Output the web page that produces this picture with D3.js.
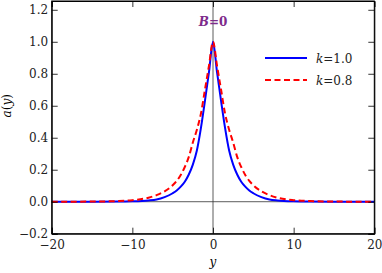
<!DOCTYPE html>
<html>
<head>
<meta charset="utf-8">
<script src="https://cdn.jsdelivr.net/npm/d3@7"></script>
<style>
  body { margin: 0; background: #fff; }
  svg { display: block; }
  svg text { font-family: "DejaVu Serif", "Liberation Serif", serif !important; }
</style>
</head>
<body>
<script>
// values
var ys = [-20, -15, -12, -10, -8, -7, -6, -5, -4.5, -4, -3.5, -3, -2.5, -2, -1.5, -1, -0.5, 0,
          0.5, 1, 1.5, 2, 2.5, 3, 3.5, 4, 4.5, 5, 6, 7, 8, 10, 12, 15, 20];
var blue = [0, 0.0002, 0.0007, 0.0023, 0.0077, 0.014, 0.029, 0.053, 0.07, 0.094, 0.125, 0.17, 0.232, 0.32, 0.46, 0.63, 0.81, 1.0,
            0.81, 0.63, 0.46, 0.32, 0.232, 0.17, 0.125, 0.094, 0.07, 0.053, 0.029, 0.014, 0.0077, 0.0023, 0.0007, 0.0002, 0];
var red = [0, 0.001, 0.004, 0.0098, 0.025, 0.041, 0.065, 0.103, 0.13, 0.167, 0.217, 0.28, 0.37, 0.45, 0.55, 0.70, 0.85, 1.0,
           0.85, 0.70, 0.55, 0.45, 0.37, 0.28, 0.217, 0.167, 0.13, 0.103, 0.065, 0.041, 0.025, 0.0098, 0.004, 0.001, 0];
var xTicks = [-20, -10, 0, 10, 20];
var yTicks = [-0.2, 0.0, 0.2, 0.4, 0.6, 0.8, 1.0, 1.2];
var legendNames = ["k=1.0", "k=0.8"];

var width = 382, height = 273;
var pLeft = 51.7, pRight = 374.3, pTop = 1, pBottom = 233.7;

var x = d3.scaleLinear().domain([-20, 20]).range([pLeft, pRight]);
var y = d3.scaleLinear().domain([-0.2, 1.255]).range([pBottom, pTop]);

var svg = d3.select("body").append("svg")
    .attr("width", width)
    .attr("height", height);

// zero lines
svg.append("line")
    .attr("x1", pLeft).attr("x2", pRight)
    .attr("y1", y(0)).attr("y2", y(0))
    .attr("stroke", "#333").attr("stroke-width", 0.8);
svg.append("line")
    .attr("x1", x(0)).attr("x2", x(0))
    .attr("y1", pTop).attr("y2", pBottom)
    .attr("stroke", "#333").attr("stroke-width", 0.8);

// curves
var line = function(vals) {
  return d3.line()
    .x(function(d, i) { return x(ys[i]); })
    .y(function(d) { return y(d); })
    .curve(d3.curveMonotoneX)(vals);
};

svg.append("path")
    .attr("d", line(blue))
    .attr("fill", "none")
    .attr("stroke", "#0000ff")
    .attr("stroke-width", 2);

svg.append("path")
    .attr("d", line(red))
    .attr("fill", "none")
    .attr("stroke", "#ff0000")
    .attr("stroke-width", 2)
    .attr("stroke-dasharray", "6,3.5");

// axes with inward ticks on all sides
var fmt = function(d) { return d3.format(".1f")(d).replace("-", "\u2212"); };
var xMinor = d3.range(-20, 20.01, 2);
var yMinor = d3.range(-0.2, 1.26, 0.05);

var gB = svg.append("g").attr("transform", "translate(0," + pBottom + ")");
gB.call(d3.axisBottom(x).tickValues(xMinor).tickSize(-3).tickFormat(""));
gB.call(d3.axisBottom(x).tickValues(xTicks).tickSize(-6)
    .tickFormat(function(d) { return String(d).replace("-", "\u2212"); }));

var gT = svg.append("g").attr("transform", "translate(0," + pTop + ")");
gT.call(d3.axisTop(x).tickValues(xMinor).tickSize(-3).tickFormat(""));
gT.call(d3.axisTop(x).tickValues(xTicks).tickSize(-6).tickFormat(""));

var gL = svg.append("g").attr("transform", "translate(" + pLeft + ",0)");
gL.call(d3.axisLeft(y).tickValues(yMinor).tickSize(-3).tickFormat(""));
gL.call(d3.axisLeft(y).tickValues(yTicks).tickSize(-6).tickFormat(fmt));

var gR = svg.append("g").attr("transform", "translate(" + pRight + ",0)");
gR.call(d3.axisRight(y).tickValues(yMinor).tickSize(-3).tickFormat(""));
gR.call(d3.axisRight(y).tickValues(yTicks).tickSize(-6).tickFormat(""));

svg.selectAll("g").attr("font-family", null);
svg.selectAll(".domain").attr("stroke", "#000").attr("stroke-width", 1);
svg.selectAll(".tick line").attr("stroke", "#000").attr("stroke-width", 0.8);
svg.selectAll(".tick text")
    .attr("font-size", 12)
    .attr("fill", "#222");
gB.selectAll(".tick text").attr("dy", "1.05em");
gL.selectAll(".tick text").attr("dx", "-0.05em");

// frame box
svg.append("rect")
    .attr("x", pLeft).attr("y", pTop)
    .attr("width", pRight - pLeft).attr("height", pBottom - pTop)
    .attr("fill", "none").attr("stroke", "#000").attr("stroke-width", 1);

// axis titles
svg.append("text")
    .attr("x", x(0)).attr("y", 266)
    .attr("text-anchor", "middle")
    .attr("font-style", "italic")
    .attr("font-size", 12)
    .text("y");

svg.append("text")
    .attr("transform", "translate(11," + y(0.6) + ") rotate(-90)")
    .attr("text-anchor", "middle")
    .attr("font-size", 12)
    .html('<tspan font-style="italic">a</tspan>(<tspan font-style="italic">y</tspan>)');

// B=0 label
svg.append("text")
    .attr("x", x(0)).attr("y", 26)
    .attr("text-anchor", "middle")
    .attr("font-size", 12)
    .attr("font-weight", "bold")
    .attr("fill", "#7d2b8b")
    .html('<tspan font-style="italic">B</tspan>=0');

// legend
var legend = svg.append("g");
var legColors = ["#0000ff", "#ff0000"];
var legDash = [null, "6,3.5"];
legendNames.forEach(function(name, i) {
  var ly = 58 + i * 22;
  legend.append("line")
      .attr("x1", 265).attr("x2", 307)
      .attr("y1", ly).attr("y2", ly)
      .attr("stroke", legColors[i])
      .attr("stroke-width", 2)
      .attr("stroke-dasharray", legDash[i]);
  var parts = name.split("=");
  legend.append("text")
      .attr("x", 316).attr("y", ly + 4.5)
      .attr("font-size", 12)
      .attr("fill", "#222")
      .html('<tspan font-style="italic">' + parts[0] + '</tspan>=' + parts[1]);
});
</script>
</body>
</html>
